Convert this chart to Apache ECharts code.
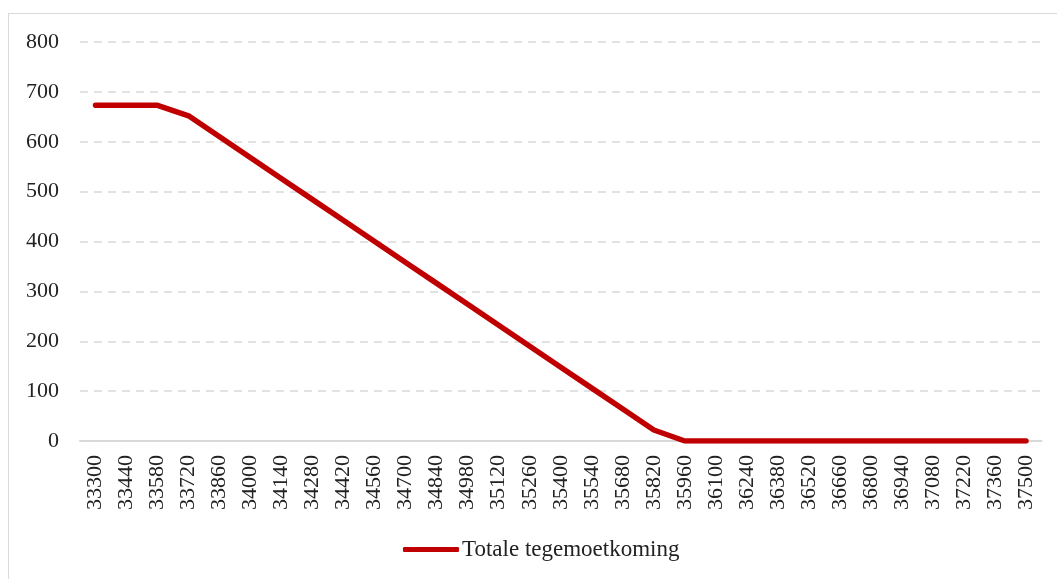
<!DOCTYPE html>
<html>
<head>
<meta charset="utf-8">
<script src="https://cdn.jsdelivr.net/npm/echarts@6/dist/echarts.min.js"></script>
<style>
  html, body { margin: 0; padding: 0; background: #fff; }
  #frame { position: absolute; left: 8px; top: 13px; width: 1060px; height: 580px;
           border-left: 1px solid #d9d9d9; border-top: 1px solid #d9d9d9; }
  #chart { position: absolute; left: 0; top: 0; width: 1057px; height: 579px; }
</style>
</head>
<body>
<div id="frame"></div>
<div id="chart"></div>
<script>
  // inkomen (x-as)
  var categories = ['33300','33440','33580','33720','33860','34000','34140','34280','34420','34560',
    '34700','34840','34980','35120','35260','35400','35540','35680','35820','35960',
    '36100','36240','36380','36520','36660','36800','36940','37080','37220','37360','37500'];
  // totale tegemoetkoming
  var tegemoetkoming = [673, 673, 673, 652, 610, 568, 526, 484, 442, 400,
    358, 316, 274, 232, 190, 148, 106, 64, 22, 0,
    0, 0, 0, 0, 0, 0, 0, 0, 0, 0, 0];
  var seriesName = 'Totale tegemoetkoming';

  var font = '"Liberation Serif", "DejaVu Serif", serif';
  var myChart = echarts.init(document.getElementById('chart'));
  myChart.setOption({
    animation: false,
    textStyle: { fontFamily: font },
    grid: { left: 80, right: 15.5, top: 42, bottom: 138 },
    legend: {
      data: [seriesName],
      bottom: 13,
      left: 398,
      itemWidth: 56,
      itemHeight: 5,
      icon: 'roundRect',
      itemGap: 4,
      textStyle: { fontFamily: font, fontSize: 23, color: '#222', padding: [0, 0, 0, -2] }
    },
    xAxis: {
      type: 'category',
      data: categories,
      boundaryGap: true,
      axisLine: { lineStyle: { color: '#d9d9d9', width: 2 } },
      axisTick: { show: false },
      axisLabel: { rotate: 90, interval: 0, fontSize: 22, color: '#222', margin: 14, fontFamily: font }
    },
    yAxis: {
      type: 'value',
      min: 0,
      max: 800,
      interval: 100,
      axisLine: { show: false },
      axisTick: { show: false },
      axisLabel: { fontSize: 22, color: '#222', margin: 21, fontFamily: font },
      splitLine: { lineStyle: { color: '#d9d9d9', width: 1.5, type: [8, 6] } }
    },
    series: [{
      name: seriesName,
      type: 'line',
      data: tegemoetkoming,
      symbol: 'none',
      lineStyle: { color: '#c00000', width: 5.5, cap: 'round' },
      itemStyle: { color: '#c00000' }
    }]
  });
</script>
</body>
</html>
